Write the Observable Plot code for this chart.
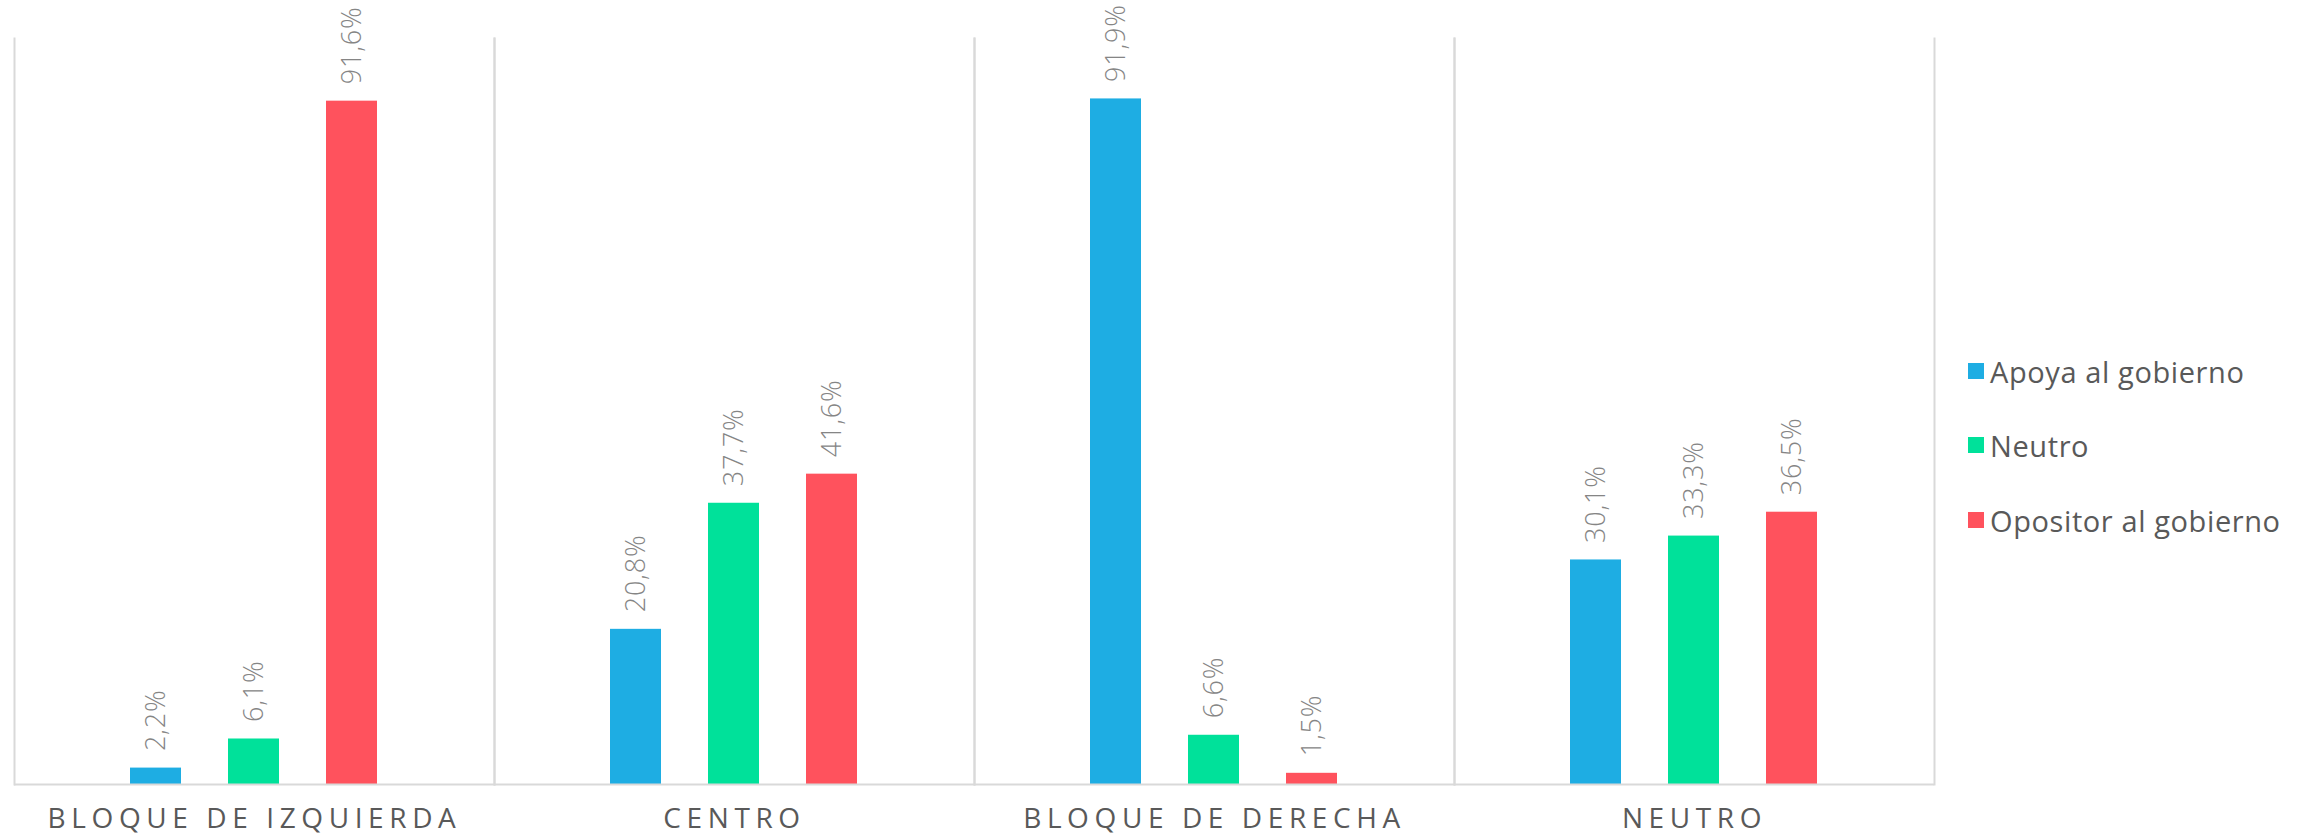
<!DOCTYPE html>
<html>
<head>
<meta charset="utf-8">
<script src="https://cdn.jsdelivr.net/npm/d3@7"></script>
<script src="https://cdn.jsdelivr.net/npm/@observablehq/plot@0.6"></script>
<style>
  html, body { margin: 0; padding: 0; background: #fff; }
  #wrap { position: relative; width: 2305px; height: 835px; }
  #legend { position: absolute; left: 1968px; top: 0; font-family: "Open Sans", sans-serif; font-size: 29px; letter-spacing: 0.6px; color: #595959; }
  .item { position: absolute; left: 0; white-space: nowrap; display: flex; align-items: center; }
  .sw { width: 16px; height: 16px; margin-right: 6px; display: inline-block; }
  g[aria-label="fx-axis tick label"] text { letter-spacing: 5.6px; }
  g[aria-label="text"] text { letter-spacing: 0.8px; }
</style>
</head>
<body>
<div id="wrap"><div id="chart"></div><div id="legend"></div></div>
<script>
const groups = ["BLOQUE DE IZQUIERDA", "CENTRO", "BLOQUE DE DERECHA", "NEUTRO"];
const series = ["Apoya al gobierno", "Neutro", "Opositor al gobierno"];
const colors = ["#1eade3", "#00e19a", "#ff525d"];
const apoya = [2.2, 20.8, 91.9, 30.1];
const neutro = [6.1, 37.7, 6.6, 33.3];
const opositor = [91.6, 41.6, 1.5, 36.5];

const values = [apoya, neutro, opositor];
const data = [];
groups.forEach((g, gi) => series.forEach((s, si) => data.push({group: g, series: s, value: values[si][gi]})));
const fmt = v => v.toFixed(1).replace(".", ",") + "%";

const chart = Plot.plot({
  width: 2305,
  height: 835,
  marginLeft: 13,
  marginRight: 370,
  marginTop: 38,
  marginBottom: 51,
  style: {fontFamily: "Open Sans, sans-serif", background: "#fff"},
  fx: {domain: groups, padding: 0, label: null},
  x: {domain: series, paddingInner: 0.475, paddingOuter: 1.165, axis: null},
  y: {domain: [0, 100], axis: null},
  color: {domain: series, range: colors},
  marks: [
    Plot.frame({anchor: "left", stroke: "#d9d9d9", strokeWidth: 2}),
    Plot.frame({anchor: "right", stroke: "#d9d9d9", strokeWidth: 2}),
    Plot.barY(data, {fx: "group", x: "series", y: "value", fill: "series"}),
    Plot.ruleY([0], {stroke: "#d9d9d9", strokeWidth: 2}),
    Plot.text(data, {fx: "group", x: "series", y: "value", text: d => fmt(d.value), rotate: -90, textAnchor: "start", lineAnchor: "middle", dy: -17, fontSize: 27, fill: "#858585", fontWeight: 300}),
    Plot.axisFx({anchor: "bottom", tickSize: 0, tickPadding: 24, fontSize: 28, fill: "#595959", label: null})
  ]
});
document.getElementById("chart").appendChild(chart);

const legend = document.getElementById("legend");
const legendY = [371, 445, 520];
series.forEach((s, i) => {
  const it = document.createElement("div");
  it.className = "item";
  it.style.top = (legendY[i] - 20) + "px";
  it.style.height = "40px";
  it.innerHTML = `<span class="sw" style="background:${colors[i]}"></span><span>${s}</span>`;
  legend.appendChild(it);
});
</script>
</body>
</html>
